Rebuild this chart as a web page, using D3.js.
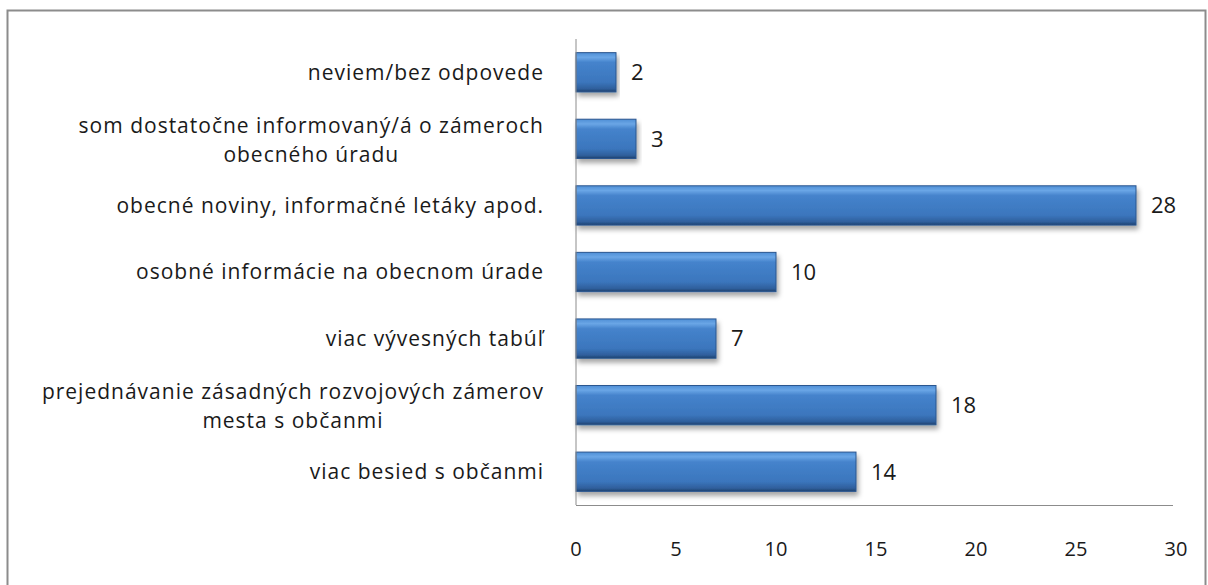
<!DOCTYPE html>
<html>
<head>
<meta charset="utf-8">
<script src="https://cdn.jsdelivr.net/npm/d3@7"></script>
<style>
body { margin: 0; background: #fff; }
text { font-family: "Open Sans", Lato, sans-serif; fill: #1a1a1a; }
</style>
</head>
<body>
<script>
// categories top to bottom, each a list of label lines
var categories = [
    ['neviem/bez odpovede'],
    ['som dostatočne informovaný/á o zámeroch', 'obecného úradu'],
    ['obecné noviny, informačné letáky apod.'],
    ['osobné informácie na obecnom úrade'],
    ['viac vývesných tabúľ'],
    ['prejednávanie zásadných rozvojových zámerov', 'mesta s občanmi'],
    ['viac besied s občanmi']
]
var values = [2, 3, 28, 10, 7, 18, 14]
var xTicks = [0, 5, 10, 15, 20, 25, 30]

var W = 1208, H = 585
var margin = { top: 39, left: 576, right: 32, bottom: 80 }
var width = W - margin.left - margin.right,
    height = H - margin.top - margin.bottom

var svg = d3.select('body').append('svg')
    .attr('width', W)
    .attr('height', H)

// outer frame
svg.append('rect')
    .attr('x', 7.5).attr('y', 10.5)
    .attr('width', W - 10).attr('height', H)
    .attr('fill', 'none')
    .attr('stroke', '#8c8c8c')
    .attr('stroke-width', 2)

var defs = svg.append('defs')
var grad = defs.append('linearGradient')
    .attr('id', 'barGrad')
    .attr('x1', 0).attr('y1', 0).attr('x2', 0).attr('y2', 1)
grad.append('stop').attr('offset', '0%').attr('stop-color', '#4f8fd6')
grad.append('stop').attr('offset', '12%').attr('stop-color', '#6aa6e6')
grad.append('stop').attr('offset', '25%').attr('stop-color', '#4583cc')
grad.append('stop').attr('offset', '75%').attr('stop-color', '#3b76bd')
grad.append('stop').attr('offset', '92%').attr('stop-color', '#2f5f9c')
grad.append('stop').attr('offset', '100%').attr('stop-color', '#1f416d')

var shadow = defs.append('filter').attr('id', 'shadow')
    .attr('x', '-5%').attr('y', '-20%').attr('width', '115%').attr('height', '160%')
shadow.append('feDropShadow')
    .attr('dx', 2).attr('dy', 4).attr('stdDeviation', 2.5)
    .attr('flood-color', '#000').attr('flood-opacity', 0.35)

var g = svg.append('g')
    .attr('transform', 'translate(' + margin.left + ',' + margin.top + ')')

var x = d3.scaleLinear().domain([0, 30]).range([0, 600])
var y = d3.scaleBand()
    .domain(d3.range(categories.length))
    .range([0, height])
    .paddingInner(0.41)
    .paddingOuter(0.205)

// bars
g.selectAll('rect.bar')
    .data(values)
    .enter().append('rect')
    .attr('class', 'bar')
    .attr('x', x(0))
    .attr('y', (d, i) => y(i))
    .attr('width', d => x(d) - x(0))
    .attr('height', y.bandwidth())
    .attr('fill', 'url(#barGrad)')
    .attr('stroke', '#2a568f')
    .attr('stroke-width', 1)
    .attr('filter', 'url(#shadow)')

// value labels
g.selectAll('text.val')
    .data(values)
    .enter().append('text')
    .attr('class', 'val')
    .attr('x', d => x(d) + 15)
    .attr('y', (d, i) => y(i) + y.bandwidth() / 2)
    .attr('dy', '0.36em')
    .attr('font-size', 22)
    .text(d => d)

// axes
g.append('line')
    .attr('x1', 0).attr('x2', 0)
    .attr('y1', 0).attr('y2', height)
    .attr('stroke', '#8c8c8c')
g.append('line')
    .attr('x1', 0).attr('x2', x(30) - 3)
    .attr('y1', height + 0.5).attr('y2', height + 0.5)
    .attr('stroke', '#8c8c8c')

g.selectAll('text.tick')
    .data(xTicks)
    .enter().append('text')
    .attr('class', 'tick')
    .attr('x', d => x(d))
    .attr('y', height + 51)
    .attr('text-anchor', 'middle')
    .attr('font-size', 20)
    .text(d => d)

// category labels: block right-aligned, lines centred within the block
var lab = g.selectAll('text.cat')
    .data(categories)
    .enter().append('text')
    .attr('class', 'cat')
    .attr('y', (d, i) => y(i) + y.bandwidth() / 2)
    .attr('text-anchor', 'middle')
    .attr('font-size', 21)
    .attr('letter-spacing', 1)
lab.selectAll('tspan')
    .data(d => d.map((t, j) => ({ t: t, j: j, n: d.length })))
    .enter().append('tspan')
    .attr('dy', d => d.j === 0 ? (0.35 - (d.n - 1) * 0.62) + 'em' : '1.36em')
    .text(d => d.t)
lab.each(function () {
    var spans = d3.select(this).selectAll('tspan')
    var maxW = d3.max(spans.nodes(), n => n.getComputedTextLength())
    spans.attr('x', -32 - maxW / 2)
})
</script>
</body>
</html>
